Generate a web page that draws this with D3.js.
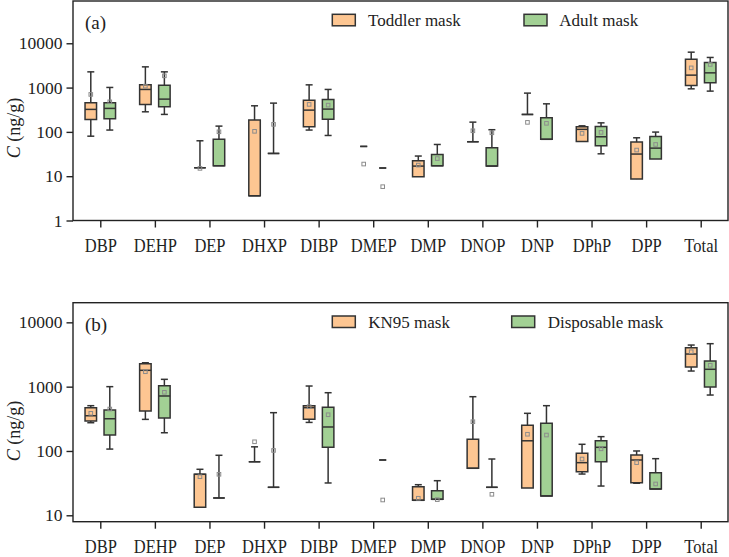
<!DOCTYPE html>
<html><head><meta charset="utf-8">
<script src="https://cdn.jsdelivr.net/npm/d3@7"></script>
<style>
body{margin:0;background:#fff}
svg{display:block}
svg text{font-family:"Liberation Serif","Times New Roman",Times,"DejaVu Serif",serif !important}
</style>
</head><body><svg id="c" width="729" height="557"></svg>
<script>
const categories = ["DBP","DEHP","DEP","DHXP","DIBP","DMEP","DMP","DNOP","DNP","DPhP","DPP","Total"];
// each entry: [lower whisker, Q1, median, Q3, upper whisker, mean]; null = not detected
const toddlerMask = [
  [80,191,322,453,2265,701],
  [284,417,908,1153,2937,1078],
  [15.5,15.5,15.5,15.5,63,15],
  [3.6,3.6,3.6,185,388,103],
  [110,130,310,521,1153,417],
  [47,null,null,null,47,18.8],
  [9.7,9.7,16.9,22.3,28.5,17.8],
  [60,60,60,60,166,106],
  [248,248,248,248,750,164],
  [61,61,114,130,137,92.5],
  [8.6,8.6,31.6,58.9,73.6,38.9],
  [937,1118,1910,4385,6300,2787]
];
const adultMask = [
  [110,197,339,453,1007,477],
  [248,368,549,1136,2265,1841],
  [17.2,17.2,17.2,68,135,100.5],
  [32.7,32.7,32.7,32.7,446,148],
  [83,194,327,541,908,402],
  [15.3,null,null,null,15.3,5.8],
  [17.2,17.2,17.2,31,52,25],
  [16.9,16.9,16.9,43.8,112,95.4],
  [68,68,68,208,430,156],
  [32,48.6,77.6,133,160,97.5],
  [24.4,24.4,43,79,99,52],
  [832,1279,2151,3690,4786,3327]
];
const kn95Mask = [
  [275,292,353,471,506,385],
  [310,418,1795,2275,2355,1706],
  [13.3,13.3,43.4,43.4,51.9,39.8],
  [68,68,68,68,116,139],
  [278,310,471,506,1023,488],
  null,
  [17.1,17.1,17.1,27.9,29.9,18.4],
  [53.8,53.8,53.8,152,698,285],
  [26.6,26.6,144,251,385,182],
  [43.8,47.6,65.8,92,127,75],
  [31.5,32.1,72.4,86.5,100,65.8],
  [1750,2018,3215,4027,4436,3494]
];
const disposableMask = [
  [107,177,317,433,1000,449],
  [192,326,716,1035,1300,817],
  [18.6,18.6,18.6,18.6,85.7,43.4],
  [27.2,27.2,27.2,27.2,394,102],
  [31.8,114,236,478,805,366],
  [72.4,null,null,null,72.4,17.3],
  [17.7,17.7,17.7,24.1,34.5,17.5],
  [27.2,27.2,27.2,27.2,75,21.2],
  [20,20,20,269,506,177],
  [28.5,68,114,144,167,108],
  [25.6,25.6,25.6,45.9,75.9,30.7],
  [741,986,1862,2506,4656,2148]
];
const ticksA = [1,10,100,1000,10000];
const ticksB = [10,100,1000,10000];
const legendA = ["Toddler mask","Adult mask"];
const legendB = ["KN95 mask","Disposable mask"];
const seriesColors = ["#FDC692","#A2D094"];

const FONT = '"Liberation Serif","Times New Roman",Times,"DejaVu Serif",serif';
const svg = d3.select("#c").attr("font-family", FONT);
const stroke = "#333";

function drawPanel(cfg){
  const g = svg.append("g");
  const x = d3.scalePoint().domain(categories).range([73,728]).padding(0.5);
  const y = d3.scaleLog().domain(cfg.domain).range([cfg.bottom, cfg.top]);

  const ya = g.append("g").attr("transform","translate(73,0)")
    .call(d3.axisLeft(y).tickValues(cfg.ticks).tickFormat(d3.format("d")).tickSize(6.5).tickPadding(4));
  ya.attr("font-family", FONT);
  ya.select(".domain").remove();
  ya.selectAll("line").attr("stroke","#222").attr("stroke-width",1.4);
  ya.selectAll("text").attr("font-size",17.5).attr("fill","#222").style("font-family",FONT);

  const xa = g.append("g").attr("transform",`translate(0,${cfg.bottom})`)
    .call(d3.axisBottom(x).tickSize(7));
  xa.attr("font-family", FONT);
  xa.select(".domain").remove();
  xa.selectAll("line").attr("stroke","#222").attr("stroke-width",1.4);
  xa.selectAll("text").attr("y",null).attr("dy",null)
    .attr("transform","translate(0,31.5) scale(1,1.2)")
    .attr("font-size",16.5).attr("fill","#222").style("font-family",FONT);

  g.append("rect").attr("x",73).attr("y",cfg.top).attr("width",655).attr("height",cfg.bottom-cfg.top)
    .attr("fill","none").attr("stroke","#222").attr("stroke-width",1.4);

  const offsets = [-9.5, 9.5];
  const bw = 11.5, cw = 7;
  cfg.series.forEach((ser, si) => {
    ser.forEach((d, i) => {
      if(!d) return;
      const cx = x(categories[i]) + offsets[si];
      const gg = g.append("g");
      gg.append("line").attr("x1",cx).attr("x2",cx).attr("y1",y(d[0])).attr("y2",y(d[4]))
        .attr("stroke",stroke).attr("stroke-width",1.5);
      gg.append("line").attr("x1",cx-cw/2).attr("x2",cx+cw/2).attr("y1",y(d[4])).attr("y2",y(d[4]))
        .attr("stroke",stroke).attr("stroke-width",1.5);
      if(d[1]===null || d[0] < d[1]){
        gg.append("line").attr("x1",cx-cw/2).attr("x2",cx+cw/2).attr("y1",y(d[0])).attr("y2",y(d[0]))
          .attr("stroke",stroke).attr("stroke-width",1.5);
      }
      if(d[1]!==null){
        const y1 = y(d[1]), y3 = y(d[3]);
        gg.append("path").attr("d",`M${cx-bw/2},${y3}H${cx+bw/2}V${y1}H${cx-bw/2}Z`)
          .attr("fill",seriesColors[si]).attr("stroke",stroke).attr("stroke-width",1.5);
        gg.append("line").attr("x1",cx-bw/2).attr("x2",cx+bw/2).attr("y1",y(d[2])).attr("y2",y(d[2]))
          .attr("stroke",stroke).attr("stroke-width",1.5);
      }
      gg.append("rect").attr("x",cx-1.8).attr("y",y(d[5])-1.8).attr("width",3.6).attr("height",3.6)
        .attr("fill","none").attr("stroke","#8c8c8c").attr("stroke-width",1);
    });
  });

  cfg.legend.forEach((lab, li) => {
    g.append("rect").attr("x",cfg.legX[li]).attr("y",cfg.legY).attr("width",23).attr("height",11.5)
      .attr("fill",seriesColors[li]).attr("stroke",stroke).attr("stroke-width",1.5);
    g.append("text").attr("x",cfg.legTX[li]).attr("y",cfg.legY+11.7).attr("font-size",17)
      .attr("fill","#222").style("font-family",FONT).text(lab);
  });

  g.append("text").attr("x",85).attr("y",cfg.top+28).attr("font-size",19).attr("fill","#222")
    .style("font-family",FONT).text(cfg.letter);

  const yl = g.append("text").attr("transform",`translate(19.5,${cfg.ylabelY}) rotate(-90)`)
    .attr("text-anchor","middle").attr("font-size",18).attr("fill","#222").style("font-family",FONT);
  yl.append("tspan").attr("font-style","italic").text("C");
  yl.append("tspan").text(" (ng/g)");
}

drawPanel({top:1, bottom:220.5, domain:[1,90000], ticks:ticksA, series:[toddlerMask, adultMask],
  legend:legendA, legX:[332.3,524], legTX:[368,559.3], legY:14.3, letter:"(a)", ylabelY:128});
drawPanel({top:302.7, bottom:521.7, domain:[7.95,20200], ticks:ticksB, series:[kn95Mask, disposableMask],
  legend:legendB, legX:[332.3,511.7], legTX:[368.3,547.7], legY:316, letter:"(b)", ylabelY:431});
</script></body></html>
